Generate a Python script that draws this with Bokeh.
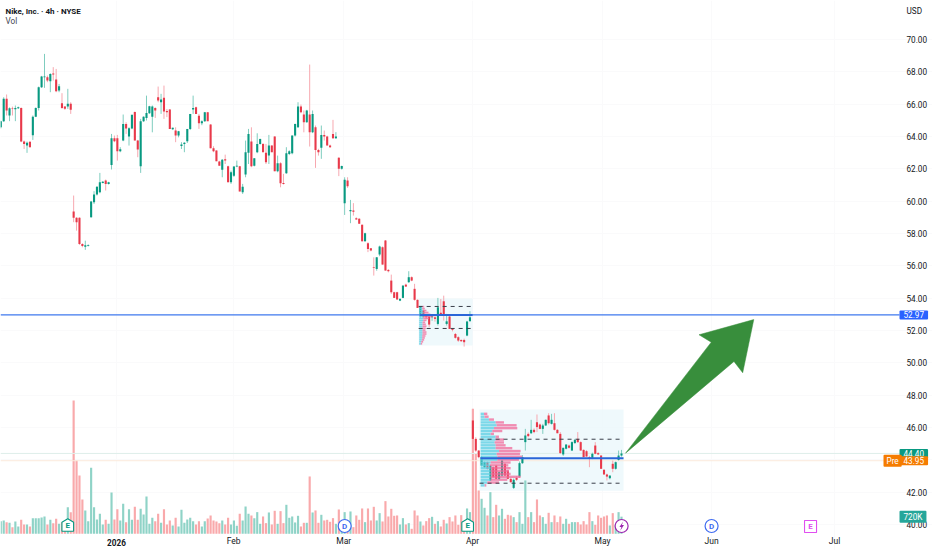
from bokeh.plotting import figure
from bokeh.embed import file_html
from bokeh.resources import INLINE
from bokeh.models import Range1d, LinearAxis, FixedTicker, Label, PrintfTickFormatter, Grid
from bokeh.core.properties import value

opens = [64.57,64.95,66.33,65.30,65.75,65.69,65.75,65.77,63.69,63.44,63.67,64.08,65.23,65.77,67.05,67.67,67.67,67.42,67.89,67.52,66.84,66.06,65.85,65.85,66.02,
59.36,58.97,58.97,57.36,57.19,57.25,59.01,59.93,60.41,60.55,61.13,61.28,61.07,62.24,63.89,63.89,63.09,63.75,64.78,64.00,64.49,65.52,63.75,62.16,64.95,65.15,65.44,65.23,65.77,66.43,66.12,66.39,65.58,65.67,64.45,64.37,64.06,63.42,63.54,63.71,64.47,65.67,65.81,65.28,64.82,64.95,65.50,64.74,63.27,63.13,62.45,61.94,62.59,62.16,61.17,61.58,62.14,62.16,60.55,61.65,62.99,63.69,62.20,63.03,63.54,63.54,62.99,62.82,63.44,64.00,61.85,62.35,61.13,61.73,62.92,62.97,64.06,64.57,65.85,65.36,64.88,65.36,
64.27,64.58,63.17,63.30,64.10,64.00,63.44,64.16,63.90,62.68,62.00,59.88,61.28,59.38,59.42,58.95,58.91,58.54,57.53,57.40,57.09,55.92,55.81,56.70,57.15,57.57,55.75,55.09,54.37,54.37,53.85,54.02,54.84,54.99,55.30,54.58,53.90,53.03,53.24,52.92,52.87,52.82,52.82,52.41,53.10,53.81,52.41,52.87,52.10,51.79,51.59,51.42,51.42,51.69,52.58,
46.44,45.30,44.58,43.65,43.55,43.86,42.73,43.55,43.65,42.83,43.03,43.76,43.34,42.83,42.27,42.89,42.97,43.80,45.10,45.61,45.65,45.86,46.33,46.19,45.92,46.13,46.75,46.23,46.27,45.86,45.61,44.34,44.69,44.89,44.58,45.04,45.30,45.10,44.62,44.54,44.17,44.13,44.89,44.42,44.27,43.39,43.10,42.87,43.76,43.45,44.00,44.27]
highs = [64.98,66.43,66.60,65.80,65.85,65.92,65.85,65.80,63.75,63.69,63.70,65.30,65.80,67.09,67.75,69.11,67.77,67.91,68.29,68.18,67.25,66.68,65.88,66.95,66.12,
60.35,59.01,59.00,57.40,57.56,57.33,60.02,60.62,60.92,61.75,61.25,61.34,61.20,64.16,64.06,64.10,63.34,65.36,64.88,64.57,65.34,65.55,63.79,65.09,65.25,66.53,65.90,65.92,65.81,67.09,66.64,67.15,65.70,65.70,64.55,64.57,64.35,63.65,63.65,64.47,65.40,66.53,65.85,65.40,65.00,65.52,65.52,64.76,63.40,63.15,62.50,62.61,62.88,62.20,61.89,62.16,62.51,62.18,61.07,63.75,64.47,64.57,62.66,64.20,63.87,63.60,63.54,64.10,63.46,64.02,62.82,62.41,61.69,63.34,63.15,64.06,64.80,66.12,65.98,65.61,65.65,68.45,
65.61,64.68,63.24,64.68,64.37,64.05,63.50,65.03,64.27,62.72,62.20,61.48,61.48,60.08,59.88,59.00,58.95,58.56,58.05,57.46,57.10,56.53,56.55,57.25,57.20,57.60,55.80,55.46,54.40,54.40,54.00,54.80,54.90,55.67,55.35,54.89,53.92,53.50,53.30,53.00,53.03,53.00,52.90,54.02,53.95,54.16,53.03,52.90,52.15,51.85,51.65,51.45,51.50,52.60,53.20,
47.16,45.40,44.60,44.25,43.90,43.90,43.65,43.60,43.70,43.30,44.00,43.80,43.40,42.90,42.85,43.00,43.90,44.30,45.92,45.70,46.48,45.95,46.81,46.25,46.23,46.50,46.89,46.85,46.89,45.90,45.72,44.75,44.98,44.95,45.15,45.30,45.72,45.15,44.65,44.60,44.25,44.45,45.10,44.48,44.30,43.42,43.15,43.05,43.96,43.90,44.58,44.62]
lows = [64.50,64.90,65.30,64.95,65.30,64.95,65.70,63.65,63.23,62.99,63.33,63.79,65.20,65.61,67.00,67.01,67.36,66.74,67.46,66.74,66.74,65.71,65.65,65.71,65.40,
58.70,58.18,57.30,57.15,56.99,57.20,58.98,59.83,60.35,60.49,61.10,60.66,61.03,61.96,63.65,62.51,63.03,63.71,64.16,63.44,64.45,63.75,62.72,61.75,64.90,64.99,65.40,64.26,65.15,66.12,65.40,65.09,65.20,64.47,64.40,63.65,63.95,63.23,63.03,63.60,64.40,65.40,65.40,64.47,64.70,64.90,64.95,63.27,63.03,62.47,62.20,61.48,62.30,61.17,61.07,61.50,62.10,60.60,60.45,61.48,62.30,62.10,62.15,62.97,63.50,63.03,62.30,62.30,63.03,61.85,61.79,60.86,61.03,61.69,62.85,62.90,64.00,64.53,65.44,64.26,64.85,63.38,
64.21,62.06,62.82,62.62,63.75,63.44,63.30,63.85,63.85,61.55,61.95,59.15,60.82,58.64,59.11,58.85,58.60,57.50,57.50,56.85,56.90,55.40,55.70,56.60,56.08,55.71,55.60,54.27,54.02,53.90,53.82,54.00,54.70,54.95,55.05,53.85,53.40,52.80,52.82,52.70,52.21,52.60,52.55,52.31,52.90,52.62,52.31,52.10,51.95,51.50,51.30,51.30,51.01,51.65,52.55,
45.20,44.50,44.10,43.60,43.50,43.40,42.70,42.90,42.80,42.75,42.95,43.00,42.80,42.60,42.20,42.70,42.90,43.75,44.58,45.40,45.60,45.65,45.72,45.90,45.61,46.10,46.19,46.19,45.82,45.65,44.38,44.25,44.65,44.70,44.55,45.00,45.05,44.58,44.17,44.20,43.55,44.05,44.35,44.30,43.45,43.08,42.73,42.80,43.24,43.40,43.96,44.20]
closes = [64.95,66.33,65.61,65.75,65.71,65.77,65.81,63.69,63.54,63.61,63.34,65.23,65.77,67.05,67.71,67.71,67.46,67.87,67.83,66.80,67.11,65.77,65.71,66.02,65.65,
58.97,58.70,57.36,57.23,57.27,57.29,59.98,60.41,60.90,61.17,61.21,61.07,61.17,63.89,63.71,63.09,63.21,64.78,64.49,64.51,65.34,63.75,63.19,64.95,65.23,65.46,65.87,65.85,65.61,66.22,66.29,65.54,65.50,64.47,64.55,64.06,64.33,63.50,63.61,64.47,65.40,65.77,65.40,64.82,64.95,65.50,64.95,63.27,63.09,62.47,62.20,62.57,62.51,61.17,61.79,62.14,62.20,60.60,60.90,63.03,64.16,62.16,62.66,63.54,63.85,63.03,62.41,63.44,63.03,61.85,62.35,61.11,61.07,62.97,63.09,64.06,64.78,65.85,65.50,64.88,65.61,64.26,
65.40,63.17,63.03,64.10,64.00,63.44,63.34,63.90,64.00,62.00,62.17,61.32,60.93,59.46,59.34,58.87,58.60,57.53,58.02,57.05,56.95,55.88,56.53,57.20,56.08,55.71,55.67,54.37,54.02,53.92,53.96,54.78,54.72,55.30,55.09,53.90,53.40,53.48,52.82,52.82,52.37,52.92,52.72,53.44,53.00,52.92,52.57,52.10,52.04,51.55,51.38,51.34,51.28,52.56,52.82,
45.30,44.58,44.17,44.17,43.86,43.45,43.65,42.93,42.83,43.24,43.96,43.03,42.83,42.62,42.77,42.77,43.80,44.17,45.51,45.47,45.86,45.72,46.03,45.92,46.13,46.48,46.27,46.48,45.86,45.65,44.42,44.75,44.95,44.75,45.10,45.24,45.10,44.58,44.17,44.21,44.07,44.38,44.38,44.34,43.45,43.10,42.97,43.03,43.45,43.86,44.27,44.40]
volumes_k = [532,560,490,462,280,518,308,588,392,392,308,658,658,658,686,728,392,588,448,630,420,490,532,1120,910,5600,3080,2450,1442,980,532,2772,1120,602,840,392,588,420,1736,602,1036,560,1260,490,1036,588,1134,588,1050,812,1568,420,672,532,840,462,1036,392,560,350,672,308,1008,462,602,672,532,392,532,308,532,644,770,560,518,448,560,392,672,392,560,336,840,560,1148,840,770,658,910,420,728,448,896,392,966,420,952,448,1218,672,728,476,756,308,
462,462,2408,896,980,462,798,560,588,504,658,420,1022,420,910,420,938,280,770,588,1064,490,1064,560,1134,560,868,518,1372,728,1050,756,770,392,658,392,448,210,980,770,518,350,532,658,714,420,532,308,588,434,700,518,770,378,784,420,1064,910,5250,3360,
1820,1470,1092,770,1750,700,1218,770,1050,630,798,770,700,490,910,420,2240,700,910,490,1442,770,700,420,882,490,770,490,728,420,630,420,490,490,490,392,532,392,910,532,378,770,672,728,770,350,868,392,910,720]

price_ticks = [40,42,44,46,48,50,52,54,56,58,60,62,64,66,68,70]
month_ticks = [79.9,117.7,161.9,206.5,243.9,286.1]
month_labels = ["Feb","Mar","Apr","May","Jun","Jul"]
year_tick = 39.8
year_label = "2026"
last_price = 44.40
pre_price = 43.95
level_price = 52.97
last_volume_label = "720K"
last_volume = 720

big_vp_up = [1000,1200,2500,4500,4800,4000,3500,3000,4500,4500,4200,4500,4500,5500,4800,5000,5000,3000,2800,3000,3000,3000,3000,3000,2000,1200]
big_vp_down = [1000,1200,1500,2500,6000,7000,3000,1000,1000,2500,2800,3000,5000,6500,7000,7500,6500,6000,5500,6000,5500,6000,9000,5000,3500,500]
big_vp_top = 46.85
big_vp_step = 0.177
big_vah, big_poc, big_val = 45.28, 44.11, 42.56
big_box = (164.3, 213.7, 42.1, 47.12)

small_vp_up = [900,900,1200,1400,1400,1400,1200,1200,1000,1000,1000,1000,1000,1000,1000,900,900,800,600,500]
small_vp_down = [600,800,1000,1400,2000,2800,1800,1000,800,1000,1200,1000,900,1200,1200,1000,800,700,600,400]
small_vp_top = 53.48
small_vp_step = 0.121
small_vah, small_poc, small_val = 53.49, 52.97, 52.13
small_box = (143.4, 161.9, 51.08, 53.98)

arrow_x = [258.4,239.6,243.8,214.4,251.6,254.6]
arrow_y = [52.68,51.74,51.28,44.42,50.09,49.39]

S = 2.915
def ix(px): return px / S
def py(y): return 70 - (y - 39) / 16.17
def yp(price): return 39 + (70 - price) * 16.17

p = figure(width=932, height=550, output_backend="svg", toolbar_location=None,
           x_range=Range1d(-0.1, 932 / S), y_range=Range1d(py(550), py(0)),
           x_axis_location=None, y_axis_location=None,
           min_border_left=0, min_border_top=0, min_border_right=0, min_border_bottom=0,
           outline_line_color=None, background_fill_color="white", border_fill_color="white")
p.extra_y_ranges = {"vol": Range1d(-16.7 * 42, 533.3 * 42)}
p.center = [r for r in p.center if not isinstance(r, Grid)]

FONT = "Roboto"
GREY = "#131722"
ya = LinearAxis(fixed_location=ix(899), ticker=FixedTicker(ticks=price_ticks),
                formatter=PrintfTickFormatter(format="%.2f"))
ya.axis_line_color = None
ya.major_tick_line_color = None
ya.minor_tick_line_color = None
ya.major_label_text_font = FONT
ya.major_label_text_font_size = "8.2px"
ya.major_label_text_color = GREY
ya.major_label_standoff = 1
p.add_layout(ya, "right")
xa = LinearAxis(fixed_location=py(533.3), ticker=FixedTicker(ticks=month_ticks))
xa.major_label_overrides = dict(zip(month_ticks, month_labels))
xa.axis_line_color = None
xa.major_tick_line_color = None
xa.minor_tick_line_color = None
xa.major_label_text_font = FONT
xa.major_label_text_font_size = "8.5px"
xa.major_label_text_color = GREY
xa.major_label_standoff = -4
p.add_layout(xa, "below")
p.add_layout(Grid(dimension=0, ticker=FixedTicker(ticks=[year_tick] + month_ticks), grid_line_color="#fafafb"), "center")
p.add_layout(Grid(dimension=1, ticker=FixedTicker(ticks=price_ticks), grid_line_color="#fafafb"), "center")

idx = list(range(len(closes)))
up = [c >= o for o, c in zip(opens, closes)]
UP, DOWN = "#089981", "#e8394a"
VUP, VDOWN = "#8fd3c7", "#f9a9ab"

# value-area boxes
for (a, b, lo, hi) in (big_box, small_box):
    p.quad(left=[a], right=[b], bottom=[lo], top=[hi], fill_color="#e9f7fb", fill_alpha=0.75, line_color=None)

# volume
p.vbar(x=idx, top=volumes_k, width=0.74, bottom=0, y_range_name="vol",
       color=[VUP if u else VDOWN for u in up], line_color=None)

# reference lines end where the price scale starts
xl = [-0.1, ix(899)]
p.line(xl, [last_price, last_price], line_color="#dfeeea", line_width=1)
p.line(xl, [pre_price, pre_price], line_color="#fbeadb", line_width=1)
p.line(xl, [level_price, level_price], line_color="#3f78ee", line_width=1.2)

# candles
wc = ["#7fcdbf" if u else "#f7a8b0" for u in up]
p.segment(x0=idx, x1=idx, y0=lows, y1=highs, color=wc, line_width=1)
p.vbar(x=idx, top=[max(o, c) for o, c in zip(opens, closes)],
       bottom=[min(o, c) for o, c in zip(opens, closes)], width=0.72,
       color=[UP if u else DOWN for u in up], line_color=None)

# volume profiles
K = 1 / 875
def vp(base, top, step, ups, downs):
    ys = [top - k * step for k in range(len(ups))]
    r1 = [base + u * K for u in ups]
    r2 = [base + (u + d) * K for u, d in zip(ups, downs)]
    p.hbar(y=ys, left=base, right=r1, height=step * 0.85, color="#5fcfe3", fill_alpha=0.8, line_color=None)
    p.hbar(y=ys, left=r1, right=r2, height=step * 0.85, color="#f0689a", fill_alpha=0.75, line_color=None)

vp(ix(480), big_vp_top, big_vp_step, big_vp_up, big_vp_down)
vp(ix(418.5), small_vp_top, small_vp_step, small_vp_up, small_vp_down)

DASH = "#3a3f4a"
for (a, b, vah, poc, val) in ((big_box[0], big_box[1], big_vah, big_poc, big_val),
                              (small_box[0], small_box[1], small_vah, small_poc, small_val)):
    p.segment(x0=[a, a], x1=[b, b], y0=[vah, val], y1=[vah, val], color=DASH, line_width=1, line_dash="4 4")
    p.segment(x0=[a + 0.3], x1=[b], y0=[poc], y1=[poc], color="#2a66d8", line_width=2)

# arrow
p.patch(arrow_x, arrow_y, fill_color="#388e3c", line_color="#388e3c", line_width=0.5)

# event markers
def house(x, col):
    dx, d1, d2, d3 = 2.0, 0.42, 0.2, 0.36
    y0 = py(525)
    p.patch([x - dx, x, x + dx, x + dx, x - dx],
            [y0 + d2, y0 + d1, y0 + d2, y0 - d3, y0 - d3],
            fill_color="white", line_color=col, line_width=1.1)
    p.text([x], [y0 - 0.02], text=["E"], text_color=col, text_align="center", text_baseline="middle",
           text_font=value(FONT), text_font_size="8px", text_font_style="bold")

house(ix(67), UP)
house(ix(467), UP)
for px, txt, col in ((344, "D", "#3f6bf0"), (711, "D", "#3f6bf0")):
    p.scatter([ix(px)], [py(525.5)], size=13, marker="circle", fill_color="white", line_color=col, line_width=1.2)
    p.text([ix(px)], [py(525.5)], text=[txt], text_color=col, text_align="center", text_baseline="middle",
           text_font=value(FONT), text_font_size="8px", text_font_style="bold")
p.scatter([ix(621)], [py(525.5)], size=13, marker="circle", fill_color="white", line_color="#9c27b0", line_width=1.2)
bolt_x = [622.6, 618.8, 620.8, 619.6, 623.4, 621.2]
bolt_y = [521, 526.6, 526.6, 530.2, 524.6, 524.6]
p.patch([ix(v) for v in bolt_x], [py(v) for v in bolt_y], fill_color="#9c27b0", line_color=None)
p.scatter([ix(810)], [py(526)], size=12, marker="square", fill_color="white", line_color="#e04ff0", line_width=1.1)
p.text([ix(810)], [py(526)], text=["E"], text_color="#e04ff0", text_align="center", text_baseline="middle",
       text_font=value(FONT), text_font_size="8px", text_font_style="bold")

def label(px, ypx, text, color=GREY, bg=None, style="normal", size="8.2px", align="left", pad=0):
    kw = {}
    if bg:
        kw.update(background_fill_color=bg, padding=pad, border_radius=1)
    p.add_layout(Label(x=px, y=550 - ypx, x_units="screen", y_units="screen", text=text, text_color=color,
                       text_font=FONT, text_font_size=size,
                       text_font_style=style, text_align=align, text_baseline="middle", **kw))

BOX = (4, 1)
label(5, 10.5, "Nike, Inc. · 4h · NYSE", style="bold", size="8px")
label(5, 20.5, "Vol", color="#434651")
label(906, 10.5, "USD")
label(year_tick * S, 541.5, year_label, style="bold", align="center")
label(899, yp(level_price), f"{level_price:.2f}", color="white", bg="#2962ff", pad=BOX)
label(899, yp(last_price), f"{last_price:.2f}", color="white", bg="#089981", pad=BOX)
label(899, yp(pre_price), f"{pre_price:.2f}", color="white", bg="#f57c00", pad=BOX)
label(883, yp(pre_price), "Pre", color="white", bg="#f57c00", pad=(3, 1))
label(899, 533.3 - last_volume / 42, last_volume_label, color="white", bg="#26a69a", pad=BOX)

open("out.html", "w").write(file_html(p, INLINE))
